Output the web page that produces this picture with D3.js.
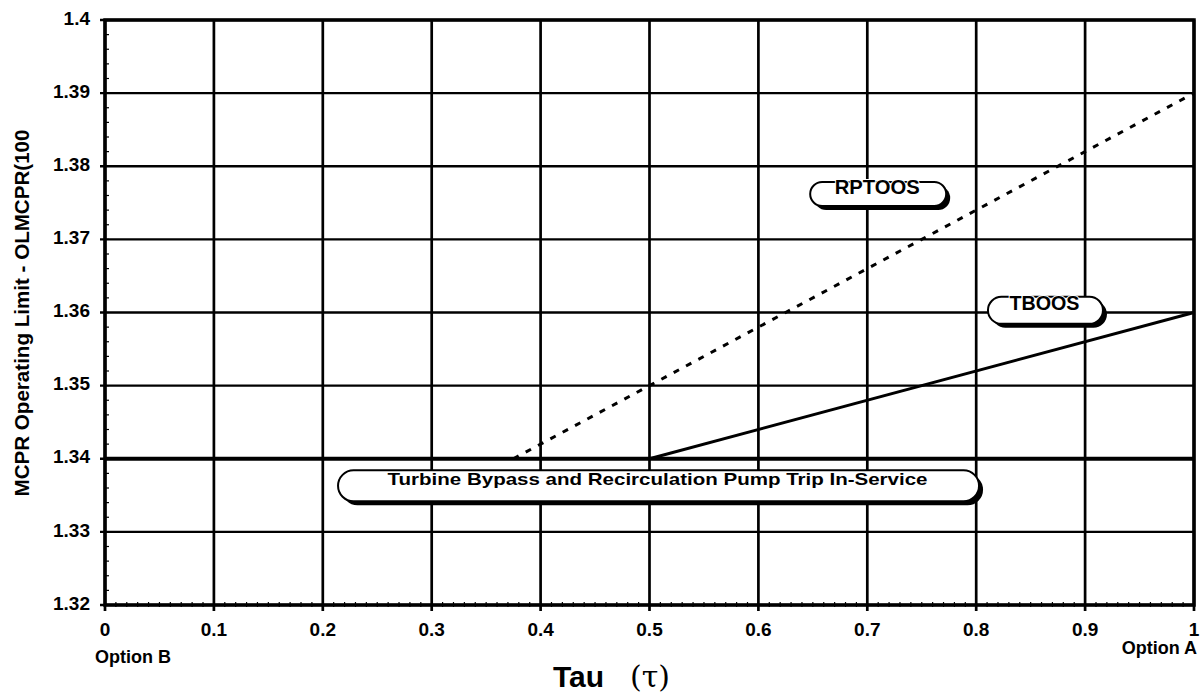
<!DOCTYPE html>
<html>
<head>
<meta charset="utf-8">
<script src="https://cdn.jsdelivr.net/npm/d3@7"></script>
<style>
  html, body { margin: 0; padding: 0; background: #fff; }
  svg { display: block; font-family: "Liberation Sans", Arial, sans-serif; }
</style>
</head>
<body>
<svg id="chart" width="1203" height="695"></svg>
<script>
// ---- data ----
const tauTicks = [0, 0.1, 0.2, 0.3, 0.4, 0.5, 0.6, 0.7, 0.8, 0.9, 1];
const tauTickLabels = ["0", "0.1", "0.2", "0.3", "0.4", "0.5", "0.6", "0.7", "0.8", "0.9", "1"];
const mcprTicks = [1.32, 1.33, 1.34, 1.35, 1.36, 1.37, 1.38, 1.39, 1.4];
const mcprTickLabels = ["1.32", "1.33", "1.34", "1.35", "1.36", "1.37", "1.38", "1.39", "1.4"];
const inServiceTau = [0, 1];
const inServiceMcpr = [1.34, 1.34];
const tboosTau = [0.5, 1];
const tboosMcpr = [1.34, 1.36];
const rptoosTau = [0.375, 1];
const rptoosMcpr = [1.34, 1.39];
const calloutText = ["RPTOOS", "TBOOS", "Turbine Bypass and Recirculation Pump Trip In-Service"];
const calloutTau = [0.71, 0.8636, 0.5083];
const calloutMcpr = [1.3762, 1.3603, 1.3363];
const xTitleWord = "Tau";
const xTitleSymbol = "(\u03C4)";
const yTitle = "MCPR Operating Limit - OLMCPR(100";
const optionLabels = ["Option B", "Option A"];

// ---- layout ----
const svg = d3.select("#chart");
const x = d3.scaleLinear().domain([0, 1]).range([105, 1194]);
const y = d3.scaleLinear().domain([1.32, 1.4]).range([605, 20]);
const [x0, x1] = x.range();
const [y0, y1] = y.range();

const g = svg.append("g");

// minor ticks
const yMinor = d3.range(1.32, 1.4001, 0.002);
g.selectAll("line.ymin").data(yMinor).enter().append("line")
  .attr("x1", x0).attr("x2", x0 + 4)
  .attr("y1", d => y(d)).attr("y2", d => y(d))
  .attr("stroke", "#000").attr("stroke-width", 1.2);
const xMinor = d3.range(0, 1.0001, 0.01);
g.selectAll("line.xmin").data(xMinor).enter().append("line")
  .attr("x1", d => x(d)).attr("x2", d => x(d))
  .attr("y1", y0 - 3).attr("y2", y0 + 2)
  .attr("stroke", "#000").attr("stroke-width", 1.2);

// horizontal gridlines
g.selectAll("line.hg").data(mcprTicks).enter().append("line")
  .attr("x1", x0 - 5).attr("x2", x1)
  .attr("y1", d => y(d)).attr("y2", d => y(d))
  .attr("stroke", "#000").attr("stroke-width", 2.3);

// vertical gridlines
g.selectAll("line.vg").data(tauTicks).enter().append("line")
  .attr("x1", d => x(d)).attr("x2", d => x(d))
  .attr("y1", y1).attr("y2", y0 + 6)
  .attr("stroke", "#000").attr("stroke-width", 2.7);

// frame
g.append("rect")
  .attr("x", x0).attr("y", y1)
  .attr("width", x1 - x0).attr("height", y0 - y1)
  .attr("fill", "none").attr("stroke", "#000").attr("stroke-width", 3.5);

// y tick labels
g.selectAll("text.yl").data(mcprTicks).enter().append("text")
  .attr("x", 90).attr("y", d => y(d) - 2)
  .attr("dy", "0.35em")
  .attr("text-anchor", "end")
  .attr("font-size", 19).attr("font-weight", "bold")
  .text((d, i) => mcprTickLabels[i]);

// x tick labels
g.selectAll("text.xl").data(tauTicks).enter().append("text")
  .attr("x", d => x(d)).attr("y", 636)
  .attr("text-anchor", "middle")
  .attr("font-size", 19).attr("font-weight", "bold")
  .text((d, i) => tauTickLabels[i]);

// option labels
g.append("text").attr("x", 95).attr("y", 663)
  .attr("font-size", 18).attr("font-weight", "bold").text(optionLabels[0]);
g.append("text").attr("x", 1197).attr("y", 654)
  .attr("text-anchor", "end")
  .attr("font-size", 18).attr("font-weight", "bold").text(optionLabels[1]);

// axis titles
const xt = g.append("text").attr("x", 553).attr("y", 687)
  .attr("font-size", 30).attr("font-weight", "bold");
xt.append("tspan").text(xTitleWord);
xt.append("tspan").attr("x", 630)
  .attr("font-family", "'DejaVu Serif', 'Liberation Serif', serif")
  .attr("font-weight", "normal")
  .text(xTitleSymbol);
g.append("text")
  .attr("transform", "translate(29,313) rotate(-90)")
  .attr("text-anchor", "middle")
  .attr("font-size", 20).attr("font-weight", "bold")
  .attr("textLength", 367).attr("lengthAdjust", "spacingAndGlyphs")
  .text(yTitle);

// series lines
const line = d3.line().x(d => x(d[0])).y(d => y(d[1]));
g.append("path")
  .attr("d", line(d3.zip(inServiceTau, inServiceMcpr)))
  .attr("stroke", "#000").attr("stroke-width", 4).attr("fill", "none");
g.append("path")
  .attr("d", line(d3.zip(tboosTau, tboosMcpr)))
  .attr("stroke", "#000").attr("stroke-width", 3).attr("fill", "none");
g.append("path")
  .attr("d", line(d3.zip(rptoosTau, rptoosMcpr)))
  .attr("stroke", "#000").attr("stroke-width", 3).attr("fill", "none")
  .attr("stroke-dasharray", "6,8");

// callouts
const calloutW = [136, 115, 641];
const calloutH = [24, 27, 31];
const calloutFont = [20, 20, 17];
const calloutTextLen = [85, 70, 540];
calloutText.forEach((t, i) => {
  const cx = x(calloutTau[i]), cy = y(calloutMcpr[i]);
  const w = calloutW[i], h = calloutH[i];
  const cg = g.append("g");
  cg.append("rect")
    .attr("x", cx - w / 2 + 4).attr("y", cy - h / 2 + 4)
    .attr("width", w).attr("height", h)
    .attr("rx", h / 2).attr("ry", h / 2)
    .attr("fill", "#000");
  cg.append("rect")
    .attr("x", cx - w / 2).attr("y", cy - h / 2)
    .attr("width", w).attr("height", h)
    .attr("rx", h / 2).attr("ry", h / 2)
    .attr("fill", "#fff").attr("stroke", "#000").attr("stroke-width", 2);
  cg.append("text")
    .attr("x", cx - 1).attr("y", cy - 7)
    .attr("dy", "0.35em")
    .attr("text-anchor", "middle")
    .attr("font-size", calloutFont[i]).attr("font-weight", "bold")
    .attr("textLength", calloutTextLen[i]).attr("lengthAdjust", "spacingAndGlyphs")
    .attr("stroke", "#fff").attr("stroke-width", 2).attr("paint-order", "stroke")
    .text(t);
});
</script>
</body>
</html>
